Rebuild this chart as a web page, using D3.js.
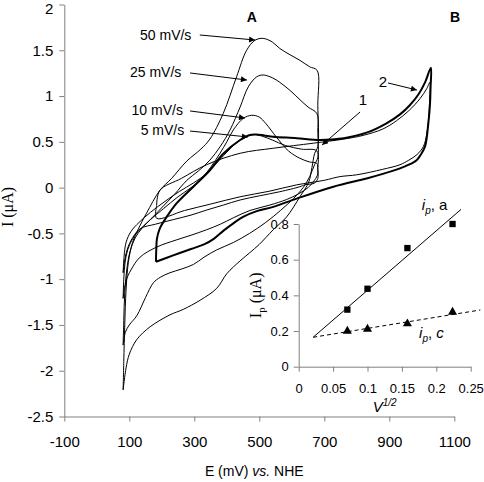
<!DOCTYPE html>
<html><head><meta charset="utf-8">
<script src="https://cdn.jsdelivr.net/npm/d3@7"></script>
<style>
body{margin:0;background:#fff}
svg{display:block}
text{font-family:"Liberation Sans",Arial,sans-serif;fill:#000}
.serif{font-family:"Liberation Serif","Times New Roman",serif}
</style>
</head><body>
<svg id="c" width="484" height="482"></svg>
<script>
// ---------- DATA ----------
const xTicks = [-100, 100, 300, 500, 700, 900, 1100];
const yTicks = [2, 1.5, 1, 0.5, 0, -0.5, -1, -1.5, -2, -2.5];

// cyclic voltammograms, [E (mV), I (uA)]
const cv50 = [[81,-2.21],[83,-1.9],[86,-1.5],[90,-1.12],[97,-0.82],[110,-0.6],[128,-0.45],[153,-0.28],[194,-0.03],[230,0.1],[277,0.29],[320,0.42],[348,0.53],[389,0.81],[430,1.21],[461,1.5],[487,1.61],[512,1.63],[540,1.59],[563,1.52],[595,1.45],[625,1.39],[655,1.32],[678,1.28],
  [680,0.9],[680,0.45],
  [670,0.37],[662,0.22],[652,0.06],[625,-0.1],[584,-0.32],[543,-0.46],[500,-0.62],[471,-0.71],[441,-0.8],[400,-0.94],[369,-1.1],[318,-1.23],[266,-1.33],[225,-1.39],[164,-1.52],[123,-1.66],[100,-1.82],[90,-1.97],[81,-2.21]];
const cv25 = [[81,-1.72],[83,-1.45],[86,-1.15],[92,-0.9],[102,-0.7],[118,-0.55],[140,-0.44],[170,-0.33],[205,-0.2],[240,-0.07],[277,0.08],[312,0.18],[348,0.3],[380,0.45],[410,0.63],[441,0.88],[466,1.1],[492,1.21],[512,1.23],[540,1.2],[563,1.15],[595,1.06],[625,0.96],[650,0.88],[677,0.81],
  [680,0.6],[680,0.33],
  [670,0.25],[655,0.12],[635,0.0],[605,-0.12],[565,-0.25],[520,-0.38],[470,-0.5],[420,-0.6],[369,-0.68],[330,-0.76],[297,-0.84],[260,-0.89],[225,-0.93],[195,-0.98],[174,-1.04],[150,-1.2],[123,-1.4],[100,-1.5],[88,-1.58],[81,-1.72]];
const cv10 = [[81,-1.21],[83,-1.0],[87,-0.82],[95,-0.68],[110,-0.56],[135,-0.45],[165,-0.35],[205,-0.23],[250,-0.1],[290,0.0],[317,0.08],[350,0.22],[379,0.375],[400,0.5],[420,0.63],[451,0.757],[477,0.79],[500,0.77],[520,0.7],[553,0.55],[590,0.4],[625,0.32],[655,0.28],[677,0.265],
  [680,0.2],[680,0.15],
  [670,0.08],[650,0.0],[620,-0.07],[584,-0.13],[533,-0.19],[471,-0.25],[420,-0.33],[380,-0.4],[338,-0.46],[290,-0.52],[246,-0.57],[184,-0.65],[133,-0.76],[105,-0.9],[90,-1.02],[81,-1.21]];
const cv5 = [[81,-0.93],[84,-0.75],[90,-0.6],[105,-0.48],[130,-0.38],[165,-0.27],[210,-0.15],[255,-0.04],[297,0.05],[340,0.16],[390,0.35],[430,0.49],[460,0.56],[485,0.58],[510,0.56],[540,0.52],[580,0.46],[630,0.42],[677,0.4],
  [680,0.2],[680,0.1],
  [670,0.05],[640,0.03],[625,0.01],[563,-0.045],[500,-0.09],[441,-0.135],[390,-0.19],[338,-0.245],[290,-0.3],[235,-0.35],[180,-0.4],[133,-0.45],[105,-0.58],[90,-0.72],[81,-0.93]];
const cv2 = [[182,-0.81],[183,-0.68],[185,-0.56],[194,-0.445],[215,-0.32],[246,-0.17],[297,0.01],[348,0.19],[389,0.37],[441,0.52],[471,0.575],[490,0.58],[515,0.57],[543,0.556],[615,0.54],[687,0.52],[760,0.54],[830,0.6],[890,0.7],[933,0.8],[963,0.9],[990,1.02],[1010,1.15],[1028,1.31],
  [1027,1.1],[1025,0.9],[1020,0.7],[1010,0.45],[995,0.35],[984,0.3],[960,0.25],[933,0.21],[880,0.15],[830,0.1],[728,0.01],[615,-0.12],[543,-0.21],[490,-0.26],[450,-0.32],[420,-0.39],[390,-0.47],[360,-0.56],[330,-0.62],[290,-0.67],[235,-0.74],[182,-0.81]];
const cv1 = [[184,-0.2],[194,-0.03],[260,0.1],[338,0.25],[441,0.375],[543,0.43],[666,0.485],[760,0.53],[819,0.57],[880,0.64],[922,0.73],[960,0.84],[994,0.97],[1015,1.08],[1025,1.15],
  [1024,0.95],[1021,0.75],[1015,0.58],[1005,0.45],[985,0.36],[960,0.3],[933,0.25],[880,0.2],[800,0.14],[748,0.12],[700,0.08],[615,0.03],[530,-0.04],[441,-0.1],[350,-0.18],[270,-0.25],[184,-0.335],[184,-0.2]];

// inset: peak currents vs sqrt(scan rate)
const insetXTicks = [0, 0.05, 0.1, 0.15, 0.2, 0.25];
const insetYTicks = [0, 0.2, 0.4, 0.6, 0.8];
const sqrtV = [0.0707, 0.1, 0.158, 0.2236];
const ipA = [0.32, 0.437, 0.665, 0.80];
const ipC = [0.20, 0.211, 0.241, 0.306];
const fitA = [[0.021, 0.165], [0.236, 0.882]];
const fitC = [[0.021, 0.165], [0.264, 0.318]];

// annotations in data units: label, text anchor (E,I), arrow from, arrow to
const notes = [
  {t:"50 mV/s", at:[133,1.612], from:[317,1.667], to:[487,1.612]},
  {t:"25 mV/s", at:[102,1.208], from:[287,1.252], to:[462,1.175]},
  {t:"10 mV/s", at:[107,0.793], from:[287,0.837], to:[456,0.760]},
  {t:"5 mV/s",  at:[135,0.575], from:[287,0.618], to:[465,0.553]}
];
const curveNotes = [
  {t:"1", at:[819,0.90], from:[810,0.826], to:[693,0.465]},
  {t:"2", at:[880,1.10], from:[896,1.143], to:[985,1.066]}
];
const panelLabels = [{t:"A", at:[477,1.809]}, {t:"B", at:[1102,1.809]}];

// ---------- DRAW ----------
const svg = d3.select("#c");
const x = d3.scaleLinear([-100, 1100], [64.3, 454.3]);
const y = d3.scaleLinear([-2.5, 2], [416.5, 4.5]);
const ix = d3.scaleLinear([0, 0.25], [298.7, 470.7]);
const iy = d3.scaleLinear([0, 0.8], [366.7, 224]);
const axisCol = "#808080";

svg.append("defs").append("marker")
  .attr("id","ah").attr("viewBox","0 0 10 10").attr("refX",10).attr("refY",5)
  .attr("markerWidth",9).attr("markerHeight",6).attr("markerUnits","userSpaceOnUse")
  .attr("orient","auto")
  .append("path").attr("d","M0,0L10,5L0,10z").attr("fill","#000");

function styleAxis(g){
  g.select(".domain").attr("stroke",axisCol);
  g.selectAll(".tick line").attr("stroke",axisCol);
  g.selectAll(".tick text").attr("fill","#000").attr("font-family","'Liberation Sans',Arial,sans-serif");
}

// main axes
const gy = svg.append("g").attr("transform",`translate(${x(-100)},0)`)
  .call(d3.axisLeft(y).tickValues(yTicks).tickFormat(d=>String(d)).tickSize(5).tickSizeOuter(0).tickPadding(6));
gy.attr("font-size",15); styleAxis(gy);
gy.selectAll(".tick text").filter(d=>d===2).attr("dy","0.62em");
const gx = svg.append("g").attr("transform",`translate(0,${y(-2.5)})`)
  .call(d3.axisBottom(x).tickValues(xTicks).tickFormat(d=>String(d)).tickSize(5).tickSizeOuter(0).tickPadding(15));
gx.attr("font-size",15); styleAxis(gx);

svg.append("text").attr("x",(x(-100)+x(1100))/2 - 5).attr("y",476).attr("text-anchor","middle").attr("font-size",14)
  .html('E (mV) <tspan font-style="italic">vs.</tspan> NHE');
svg.append("text").attr("class","serif").attr("transform","translate(13,207) rotate(-90)")
  .attr("text-anchor","middle").attr("font-size",16).text("I (\u03BCA)");

// curves
const line = d3.line().x(d=>x(d[0])).y(d=>y(d[1])).curve(d3.curveCatmullRom.alpha(0.5));
const curves = [
  {pts:cv50,w:1},{pts:cv25,w:1},{pts:cv10,w:1},{pts:cv5,w:1},{pts:cv1,w:1},{pts:cv2,w:2}
];
svg.append("g").selectAll("path").data(curves).join("path")
  .attr("d",d=>line(d.pts)).attr("fill","none").attr("stroke","#000")
  .attr("stroke-width",d=>d.w).attr("stroke-linejoin","round");

// annotations
const allNotes = notes.concat(curveNotes);
svg.append("g").selectAll("line").data(allNotes).join("line")
  .attr("x1",d=>x(d.from[0])).attr("y1",d=>y(d.from[1]))
  .attr("x2",d=>x(d.to[0])).attr("y2",d=>y(d.to[1]))
  .attr("stroke","#000").attr("stroke-width",1).attr("marker-end","url(#ah)");
svg.append("g").selectAll("text").data(notes).join("text")
  .attr("x",d=>x(d.at[0])).attr("y",d=>y(d.at[1])).attr("font-size",14).text(d=>d.t);
svg.append("g").selectAll("text").data(curveNotes).join("text")
  .attr("x",d=>x(d.at[0])).attr("y",d=>y(d.at[1])).attr("text-anchor","middle").attr("font-size",15).text(d=>d.t);
svg.append("g").selectAll("text").data(panelLabels).join("text")
  .attr("x",d=>x(d.at[0])).attr("y",d=>y(d.at[1])).attr("text-anchor","middle")
  .attr("font-size",14).attr("font-weight","bold").text(d=>d.t);

// ---------- INSET ----------
const giy = svg.append("g").attr("transform",`translate(${ix(0)},0)`)
  .call(d3.axisLeft(iy).tickValues(insetYTicks).tickFormat(d=>String(d)).tickSize(5).tickSizeOuter(0).tickPadding(5));
giy.attr("font-size",13); styleAxis(giy);
const gix = svg.append("g").attr("transform",`translate(0,${iy(0)})`)
  .call(d3.axisBottom(ix).tickValues(insetXTicks).tickFormat(d=>String(d)).tickSize(5).tickSizeOuter(0).tickPadding(12));
gix.attr("font-size",13); styleAxis(gix);

const lin = d3.line().x(d=>ix(d[0])).y(d=>iy(d[1]));
svg.append("path").attr("d",lin(fitA)).attr("fill","none").attr("stroke","#000").attr("stroke-width",1);
svg.append("path").attr("d",lin(fitC)).attr("fill","none").attr("stroke","#000").attr("stroke-width",1).attr("stroke-dasharray","4,3");

const sq = d3.symbol().type(d3.symbolSquare).size(40);
const tri = d3.symbol().type(d3.symbolTriangle).size(36);
svg.append("g").selectAll("path").data(sqrtV.map((v,i)=>[v,ipA[i]])).join("path")
  .attr("d",sq).attr("transform",d=>`translate(${ix(d[0])},${iy(d[1])})`).attr("fill","#000");
svg.append("g").selectAll("path").data(sqrtV.map((v,i)=>[v,ipC[i]])).join("path")
  .attr("d",tri).attr("transform",d=>`translate(${ix(d[0])},${iy(d[1])})`).attr("fill","#000");

svg.append("text").attr("x",ix(0.125)).attr("y",412).attr("text-anchor","middle").attr("font-size",15)
  .html('<tspan font-style="italic">V</tspan><tspan font-style="italic" font-size="10" dy="-6">1/2</tspan>');
svg.append("text").attr("class","serif").attr("transform",`translate(261,${iy(0.4)}) rotate(-90)`)
  .attr("text-anchor","middle").attr("font-size",16)
  .html('I<tspan font-size="11" dy="4">p</tspan><tspan dy="-4"> (\u03BCA)</tspan>');
svg.append("text").attr("x",ix(0.179)).attr("y",iy(0.878)).attr("font-size",15)
  .html('<tspan font-style="italic">i</tspan><tspan font-style="italic" font-size="10" dy="4">p</tspan><tspan dy="-4">, a</tspan>');
svg.append("text").attr("x",ix(0.175)).attr("y",iy(0.161)).attr("font-size",15)
  .html('<tspan font-style="italic">i</tspan><tspan font-style="italic" font-size="10" dy="4">p</tspan><tspan dy="-4">, </tspan><tspan font-style="italic">c</tspan>');
</script>
</body></html>
